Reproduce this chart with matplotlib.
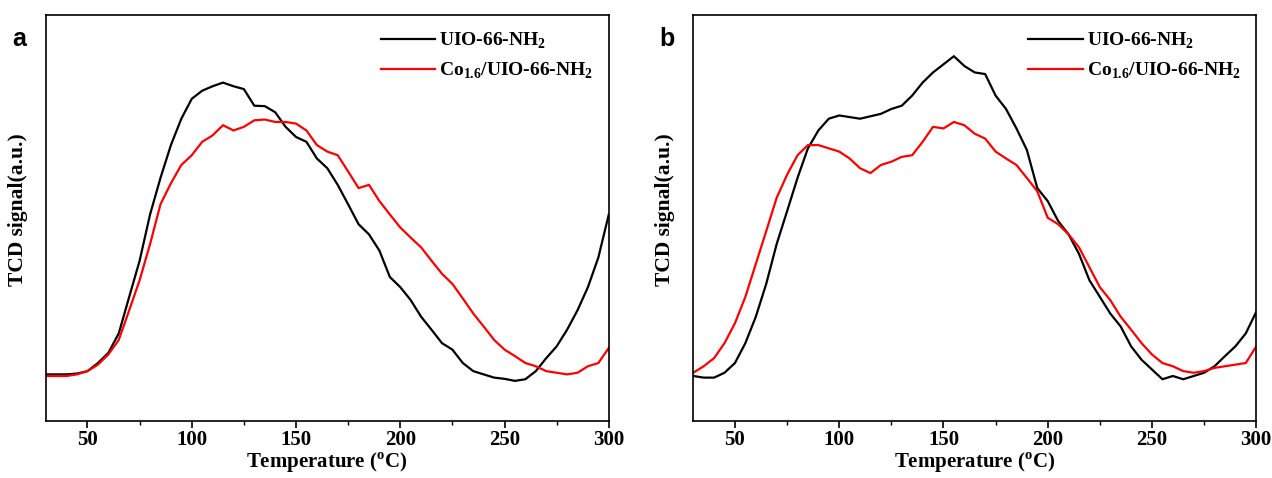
import matplotlib.pyplot as plt
import numpy as np
from matplotlib.ticker import MultipleLocator

# temperatures (°C) at which values were read
temp = [30, 35, 40, 45, 50, 55, 60, 65, 70, 75, 80, 85, 90, 95, 100, 105, 110, 115,
        120, 125, 130, 135, 140, 145, 150, 155, 160, 165, 170, 175, 180, 185, 190,
        195, 200, 205, 210, 215, 220, 225, 230, 235, 240, 245, 250, 255, 260, 265,
        270, 275, 280, 285, 290, 295, 300]

# panel a
a_uio = [11.4, 11.4, 11.4, 11.6, 12.2, 14.2, 16.7, 21.5, 30.5, 39.4, 50.8, 59.8, 67.9,
         74.4, 79.3, 81.3, 82.4, 83.3, 82.4, 81.7, 77.6, 77.5, 76.0, 72.4, 69.9, 68.7,
         64.6, 62.2, 58.1, 53.3, 48.4, 45.9, 41.9, 35.4, 32.9, 29.7, 25.6, 22.4, 19.1,
         17.5, 14.2, 12.2, 11.4, 10.6, 10.3, 9.8, 10.2, 12.2, 15.4, 18.3, 22.4, 27.2,
         32.9, 40.2, 50.8]
a_co = [11.0, 11.0, 11.0, 11.4, 12.2, 13.8, 16.3, 19.9, 27.2, 34.6, 43.5, 53.3, 58.5,
        63.0, 65.4, 68.7, 70.3, 72.8, 71.5, 72.4, 74.0, 74.2, 73.6, 73.6, 73.2, 71.5,
        67.9, 66.3, 65.4, 61.4, 57.3, 58.1, 54.1, 50.8, 47.6, 45.1, 42.7, 39.4, 36.2,
        33.7, 30.1, 26.4, 23.2, 19.9, 17.5, 15.9, 14.2, 13.4, 12.2, 11.8, 11.4, 11.8,
        13.4, 14.2, 17.9]

# panel b
b_uio = [11.0, 10.6, 10.6, 11.8, 14.2, 19.1, 25.6, 33.7, 43.5, 51.6, 59.8, 67.1, 71.5,
         74.4, 75.2, 74.8, 74.4, 75.0, 75.6, 76.8, 77.6, 80.1, 83.3, 85.8, 87.8, 89.8,
         87.4, 85.8, 85.4, 80.1, 76.8, 72.0, 66.7, 57.3, 54.1, 49.2, 45.9, 41.1, 34.6,
         30.5, 26.4, 23.2, 18.3, 15.0, 12.6, 10.2, 11.0, 10.2, 11.0, 11.8, 13.4, 15.9,
         18.3, 21.5, 26.8]
b_co = [11.8, 13.4, 15.4, 19.1, 24.0, 30.5, 38.6, 46.7, 54.9, 60.6, 65.4, 67.9, 67.9,
        67.1, 66.3, 64.6, 62.2, 61.0, 63.0, 63.8, 65.0, 65.4, 68.7, 72.4, 72.0, 73.6,
        72.8, 70.7, 69.5, 66.3, 64.6, 63.0, 59.8, 56.5, 50.0, 48.4, 45.9, 42.7, 37.8,
        32.9, 29.7, 25.6, 22.4, 19.1, 16.3, 14.2, 13.4, 12.2, 11.8, 12.2, 13.0, 13.4,
        13.8, 14.2, 18.3]

labels = [r'UIO-66-NH$_\mathregular{2}$', r'Co$_\mathregular{1.6}$/UIO-66-NH$_\mathregular{2}$']

plt.rcParams['font.family'] = 'Liberation Serif'
plt.rcParams['font.weight'] = 'bold'

fig = plt.figure(figsize=(12.72, 4.78), dpi=100)
ax1 = fig.add_axes([0.036, 0.12, 0.4426, 0.849])
ax2 = fig.add_axes([0.545, 0.12, 0.4426, 0.849])

for ax, y1, y2, tag in [(ax1, a_uio, a_co, 'a'), (ax2, b_uio, b_co, 'b')]:
    ax.plot(temp, y1, color='black', lw=1.6, label=labels[0])
    ax.plot(temp, y2, color='#ff0000', lw=1.6, label=labels[1])
    ax.set_xlim(30, 300)
    ax.set_ylim(0, 100)
    ax.set_yticks([])
    ax.xaxis.set_major_locator(MultipleLocator(50))
    ax.xaxis.set_minor_locator(MultipleLocator(25))
    ax.tick_params(axis='x', which='major', direction='out', length=5, width=1.2,
                   labelsize=15, pad=2)
    ax.tick_params(axis='x', which='minor', direction='out', length=3, width=1.0)
    for s in ax.spines.values():
        s.set_linewidth(1.2)
    for lab in ax.get_xticklabels():
        lab.set_fontweight('bold')
    ax.set_xlabel(r'Temperature ($^\mathregular{o}$C)', fontsize=15, fontweight='bold',
                  labelpad=0)
    ax.set_ylabel('TCD signal(a.u.)', fontsize=15.5, fontweight='bold')
    ax.yaxis.set_label_coords(-0.032, 0.52)
    ax.legend(loc='upper right', frameon=False, handlelength=2.8,
              handletextpad=0.2, labelspacing=0.5, borderaxespad=0.4,
              prop={'weight': 'bold', 'size': 14})
    ax.text(-0.06, 0.97, tag, transform=ax.transAxes, fontsize=18, fontweight='bold',
            family='Liberation Sans', va='top', ha='left')

fig.savefig('out.png', dpi=100)
